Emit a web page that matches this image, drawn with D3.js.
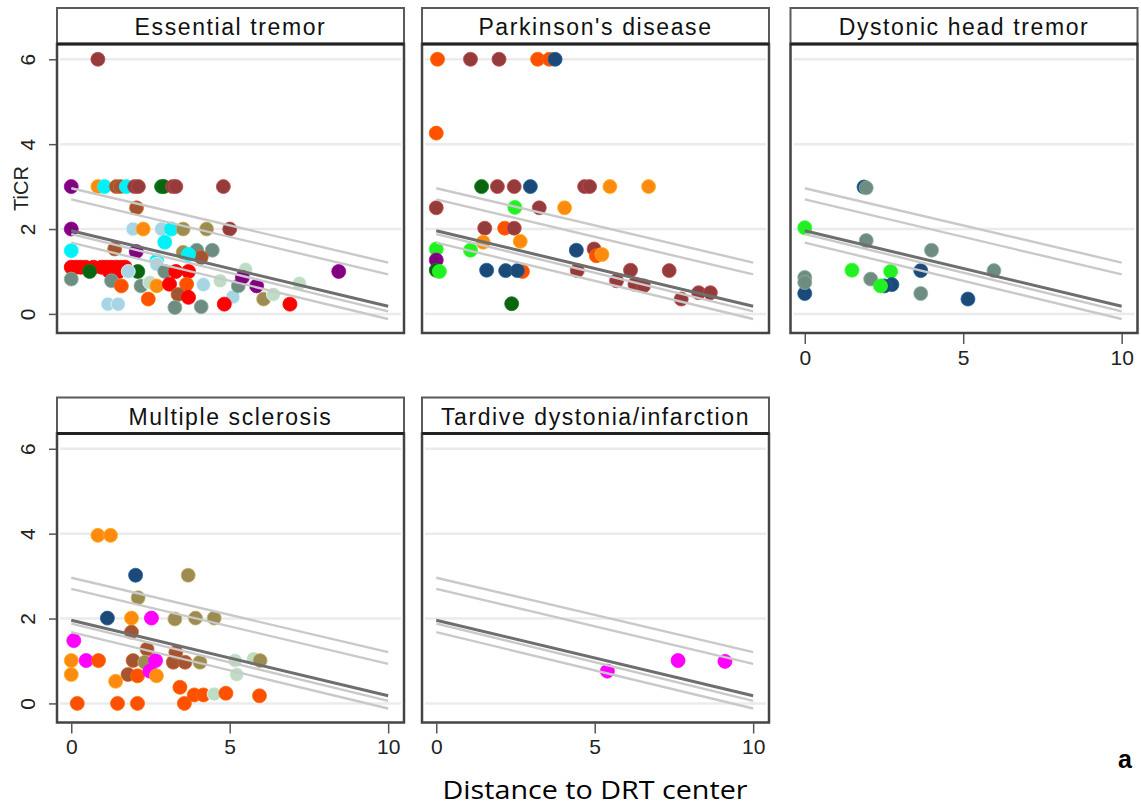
<!DOCTYPE html>
<html>
<head>
<meta charset="utf-8">
<script src="https://cdn.jsdelivr.net/npm/d3@7"></script>
<style>
  body { margin: 0; background: #fff; }
  svg { display: block; }
</style>
</head>
<body>
<svg id="chart" width="1141" height="810"></svg>
<script>
// titres des panneaux, ticks et bandes de regression
const titles = ["Essential tremor", "Parkinson's disease", "Dystonic head tremor", "Multiple sclerosis", "Tardive dystonia/infarction"];
const xTicks = [0, 5, 10];
const yTicks = [0, 2, 4, 6];
// valeurs des droites a x=0 et x=10 (ajustement + bornes)
const bandStart = [2.96, 2.70, 1.96, 1.88, 1.68];
const bandEnd = [1.21, 0.93, 0.18, 0.06, -0.12];

// points : [distance, TiCR, groupe]
const essentialTremor = [
  [0.84, 6.0, 1],
  [0, 3, 6], [0.84, 3, 3], [1.05, 3, 11], [1.42, 3, 13], [1.55, 3, 13], [1.74, 3, 11], [2.0, 3, 1], [2.12, 3, 1],
  [2.85, 3, 4], [2.92, 3, 4], [3.2, 3, 1], [3.3, 3, 1], [4.8, 3, 1],
  [2.06, 2.5, 13],
  [0, 2, 6], [1.95, 2, 10], [2.27, 2, 3], [2.85, 2, 10], [3.16, 2, 11], [3.53, 2, 14], [4.27, 2, 14], [5.0, 2, 1],
  [2.95, 1.69, 11], [0, 1.49, 11], [1.37, 1.53, 13], [2.05, 1.47, 6], [3.53, 1.45, 14], [3.96, 1.5, 9], [4.45, 1.5, 9],
  [4.1, 1.33, 13], [3.7, 1.4, 11], [2.7, 1.25, 11],
  [0, 1.1, 12], [0.15, 1.1, 12], [0.3, 1.1, 12], [0.45, 1.1, 12], [0.7, 1.1, 12], [0.95, 1.1, 12], [1.1, 1.1, 12],
  [1.25, 1.1, 12], [1.4, 1.1, 12], [1.55, 1.1, 12], [1.7, 1.1, 12], [1.2, 1.0, 12], [1.5, 1.0, 12],
  [0.58, 1.0, 4], [2.1, 1.0, 4], [1.8, 1.0, 10], [2.7, 1.17, 10], [2.95, 1.0, 9],
  [0, 0.82, 9], [1.27, 0.78, 9], [2.2, 0.66, 9], [1.58, 0.66, 2], [2.48, 0.74, 15], [2.7, 0.66, 3], [3.1, 0.7, 12],
  [3.3, 1.0, 12], [3.7, 1.0, 12], [3.64, 0.7, 2], [3.37, 0.46, 13], [3.7, 0.39, 12], [2.43, 0.35, 2],
  [1.16, 0.23, 10], [1.48, 0.23, 10], [3.27, 0.15, 9], [4.1, 0.17, 9], [4.17, 0.69, 10], [5.1, 0.4, 10],
  [4.83, 0.23, 12], [5.27, 0.66, 9], [4.7, 0.78, 15], [5.5, 1.05, 15], [5.4, 0.86, 6], [5.85, 0.66, 6],
  [6.07, 0.35, 14], [6.38, 0.46, 15], [7.2, 0.72, 15], [6.9, 0.23, 12], [8.44, 1.0, 6]
];
const parkinsons = [
  [0.04, 6, 2], [1.08, 6, 1], [1.98, 6, 1], [3.2, 6, 2], [3.57, 6, 2], [3.75, 6, 8],
  [0, 4.26, 2],
  [1.43, 3, 4], [1.93, 3, 1], [2.46, 3, 1], [2.97, 3, 8], [4.68, 3, 1], [4.84, 3, 1], [5.48, 3, 3], [6.7, 3, 3],
  [0, 2.5, 1], [2.48, 2.51, 5], [3.25, 2.5, 1], [4.05, 2.5, 3],
  [1.53, 2.02, 1], [2.16, 2.02, 2], [2.46, 2.02, 1],
  [1.48, 1.69, 3], [2.65, 1.71, 3],
  [0, 1.53, 5], [1.08, 1.5, 5], [0, 1.27, 6], [0, 1.03, 4], [0.1, 1.0, 5],
  [2.72, 1.0, 2], [1.59, 1.03, 8], [2.19, 1.02, 8], [2.56, 1.02, 8],
  [2.38, 0.24, 4],
  [4.42, 1.5, 8], [4.98, 1.53, 1], [5.05, 1.37, 2], [5.23, 1.4, 3],
  [4.45, 1.02, 1], [6.13, 1.03, 1], [7.35, 1.02, 1], [5.69, 0.78, 1], [6.27, 0.7, 1], [6.54, 0.66, 1],
  [7.73, 0.35, 1], [8.28, 0.5, 1], [8.65, 0.5, 1]
];
const dystonicHead = [
  [1.87, 2.99, 8], [1.94, 2.97, 9], [0, 2.03, 5], [1.94, 1.73, 9], [4.0, 1.5, 9], [1.49, 1.03, 5], [2.08, 0.82, 9],
  [2.71, 1.0, 5], [3.66, 1.02, 8], [2.75, 0.69, 8], [2.52, 0.66, 8], [2.39, 0.66, 5], [3.66, 0.48, 9],
  [5.15, 0.35, 8], [5.97, 1.02, 9], [0, 0.48, 8], [0, 0.86, 9], [0, 0.74, 9]
];
const multipleSclerosis = [
  [0.84, 3.96, 3], [1.24, 3.96, 3], [2.03, 3.02, 8], [3.69, 3.02, 14], [2.11, 2.49, 14],
  [1.14, 2.01, 8], [1.9, 2.01, 3], [2.53, 2.01, 7], [3.27, 1.99, 14], [3.92, 2.01, 14], [4.51, 2.01, 14],
  [1.9, 1.68, 13], [0.08, 1.48, 7], [2.39, 1.28, 13],
  [0, 1.01, 3], [0.47, 1.01, 7], [0.86, 1.01, 2], [1.95, 1.01, 13], [2.32, 0.97, 14], [2.66, 1.01, 7],
  [3.22, 0.97, 13], [3.59, 0.97, 13], [4.06, 0.97, 14], [3.3, 1.2, 13],
  [5.17, 1.01, 15], [5.22, 0.68, 15], [5.75, 1.05, 15], [5.96, 1.01, 14],
  [0, 0.68, 3], [1.79, 0.68, 13], [2.09, 0.65, 2], [2.48, 0.76, 7], [2.69, 0.65, 3],
  [1.4, 0.52, 3], [3.43, 0.38, 2], [3.88, 0.2, 2], [4.17, 0.2, 2], [4.51, 0.22, 15], [4.88, 0.24, 2], [5.94, 0.18, 2],
  [0.19, 0, 2], [1.46, 0, 2], [2.09, 0, 2], [3.57, 0, 2]
];
const tardive = [
  [5.4, 0.76, 7], [7.63, 1.01, 7], [9.11, 0.99, 7]
];
const panelPoints = [essentialTremor, parkinsons, dystonicHead, multipleSclerosis, tardive];

// couleurs des groupes
const groupColor = d3.scaleOrdinal()
  .domain(d3.range(1, 16))
  .range(["#953b3b", "#ff5000", "#ff8a10", "#0a6410", "#22f022", "#800080", "#ff00ff", "#1b4a78",
          "#6e8c80", "#a8d4e4", "#00f0f8", "#ff0000", "#a4542e", "#9c8c52", "#bfdcc4"]);

const svg = d3.select('#chart');

const panelW = 347, headerH = 36, plotH = 289;
const colLeft = [57, 422, 790.5];
const rowTop = [8, 397.5];

titles.forEach((title, i) => {
  const col = i % 3, row = Math.floor(i / 3);
  const left = colLeft[col], top = rowTop[row];
  const plotTop = top + headerH, plotBottom = plotTop + plotH;

  const x = d3.scaleLinear().domain([-0.45, 10.5]).range([left, left + panelW]);
  const y = d3.scaleLinear().domain([-0.45, 6.36]).range([plotBottom, plotTop]);

  const g = svg.append('g');

  // grille
  g.selectAll('line.grid')
    .data(yTicks)
    .enter().append('line')
    .attr('x1', left + 3).attr('x2', left + panelW - 3)
    .attr('y1', d => y(d)).attr('y2', d => y(d))
    .attr('stroke', '#ebebeb').attr('stroke-width', 2.5);

  // points
  g.selectAll('circle')
    .data(panelPoints[i])
    .enter().append('circle')
    .attr('cx', d => x(d[0]))
    .attr('cy', d => y(d[1]))
    .attr('r', 7)
    .attr('fill', d => groupColor(d[2]))
    .attr('stroke', d => d3.color(groupColor(d[2])).brighter(0.7))
    .attr('stroke-width', 0.8);

  // droites
  const bands = bandStart.map((s, k) => ({ k, pts: [[0, s], [10, bandEnd[k]]] }));
  const line = d3.line().x(d => x(d[0])).y(d => y(d[1]));
  g.selectAll('path.band')
    .data(bands.filter(b => b.k !== 2))
    .enter().append('path')
    .attr('d', d => line(d.pts))
    .attr('fill', 'none')
    .attr('stroke', '#c9c9c9')
    .attr('stroke-width', 2.4);
  g.append('path')
    .attr('d', line(bands[2].pts))
    .attr('fill', 'none')
    .attr('stroke', '#6e6e6e')
    .attr('stroke-width', 3);

  // cadre
  g.append('rect')
    .attr('x', left).attr('y', top).attr('width', panelW).attr('height', headerH)
    .attr('fill', 'white').attr('stroke', '#5a5a5a').attr('stroke-width', 2);
  g.append('rect')
    .attr('x', left).attr('y', plotTop).attr('width', panelW).attr('height', plotH)
    .attr('fill', 'none').attr('stroke', '#444').attr('stroke-width', 2.5);
  g.append('line')
    .attr('x1', left).attr('x2', left + panelW)
    .attr('y1', plotTop).attr('y2', plotTop)
    .attr('stroke', '#222').attr('stroke-width', 3);

  g.append('text')
    .attr('x', left + panelW / 2).attr('y', top + 27)
    .attr('text-anchor', 'middle')
    .attr('font-family', 'Liberation Sans, Arial, sans-serif')
    .attr('font-size', 23)
    .attr('letter-spacing', 1.6)
    .attr('fill', '#111')
    .text(title);

  // axe y (colonne de gauche)
  if (col === 0) {
    const ay = g.append('g')
      .attr('transform', `translate(${left - 1},0)`)
      .call(d3.axisLeft(y).tickValues(yTicks).tickSize(7).tickFormat(d3.format('d')));
    ay.select('.domain').remove();
    ay.selectAll('line').attr('stroke', '#555').attr('stroke-width', 1.5);
    ay.selectAll('text')
      .attr('x', 0).attr('dy', 0)
      .attr('transform', 'translate(-21,0) rotate(-90)')
      .attr('text-anchor', 'middle')
      .attr('font-family', 'Liberation Sans, Arial, sans-serif')
      .attr('font-size', 21)
      .attr('fill', '#222');
  }

  // axe x (bas de chaque colonne)
  if (i >= 2) {
    const ax = g.append('g')
      .attr('transform', `translate(0,${plotBottom + 1})`)
      .call(d3.axisBottom(x).tickValues(xTicks).tickSize(10).tickPadding(6));
    ax.select('.domain').remove();
    ax.selectAll('line').attr('stroke', '#555').attr('stroke-width', 1.5);
    ax.selectAll('text')
      .attr('font-family', 'Liberation Sans, Arial, sans-serif')
      .attr('font-size', 21)
      .attr('fill', '#222');
  }
});

// titre axe y
svg.append('text')
  .attr('transform', `translate(28,${rowTop[0] + headerH + plotH / 2}) rotate(-90)`)
  .attr('text-anchor', 'middle')
  .attr('font-family', 'Liberation Sans, Arial, sans-serif')
  .attr('font-size', 20)
  .attr('fill', '#222')
  .text('TiCR');

// titre axe x
svg.append('text')
  .attr('x', 595).attr('y', 799)
  .attr('text-anchor', 'middle')
  .attr('font-family', 'Open Sans, Lato, sans-serif')
  .attr('font-size', 26)
  .attr('textLength', 305)
  .attr('lengthAdjust', 'spacingAndGlyphs')
  .attr('fill', '#000')
  .text('Distance to DRT center');

svg.append('text')
  .attr('x', 1125).attr('y', 768)
  .attr('text-anchor', 'middle')
  .attr('font-family', 'Liberation Sans, Arial, sans-serif')
  .attr('font-weight', 'bold')
  .attr('font-size', 25)
  .attr('fill', '#000')
  .text('a');
</script>
</body>
</html>
